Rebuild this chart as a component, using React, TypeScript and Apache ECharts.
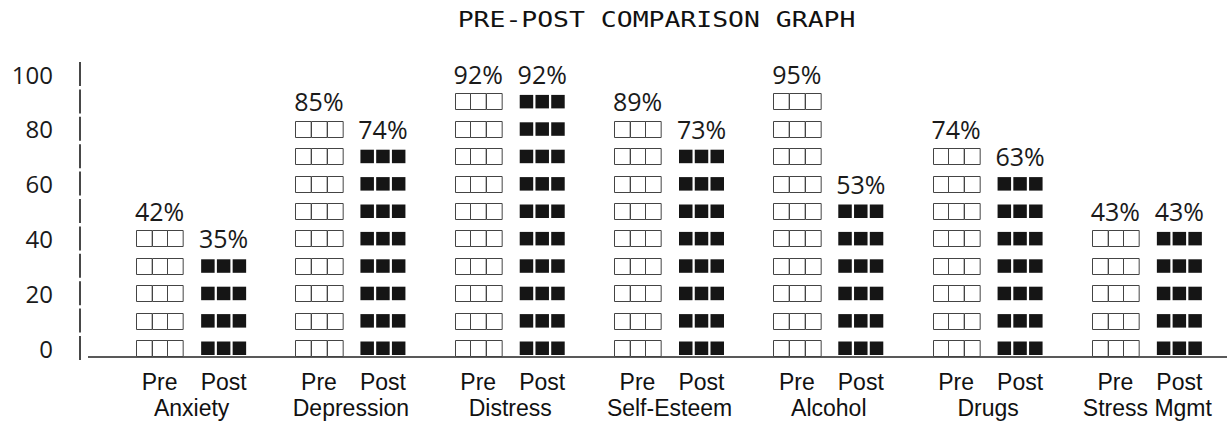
import React, { useEffect, useRef } from "react";
import * as echarts from "echarts";

const categories = ["Anxiety", "Depression", "Distress", "Self-Esteem", "Alcohol", "Drugs", "Stress Mgmt"];
const preValues = [42, 85, 92, 89, 95, 74, 43];
const postValues = [35, 74, 92, 73, 53, 63, 43];
const axisMarks = [0, 10, 20, 30, 40, 50, 60, 70, 80, 90, 100];
const TITLE = "PRE-POST COMPARISON GRAPH";
const STEP = 10; // one row of boxes per 10%

const MONO = "DejaVu Sans Mono";
const NUM = "Open Sans";
const SANS = "Liberation Sans";

function makeBarRender(kind: "pre" | "post") {
  return (params: any, api: any) => {
    const cat = api.value(0);
    const v = api.value(1);
    const base = api.coord([cat, 0]);
    const cx = base[0] + (kind === "pre" ? -32 : 32);
    const rows = Math.ceil(v / STEP);
    const children: any[] = [];
    for (let i = 0; i < rows; i++) {
      const cy = api.coord([cat, i * STEP])[1];
      for (let j = 0; j < 3; j++) {
        if (kind === "pre") {
          children.push({
            type: "rect",
            shape: { x: Math.round(cx - 23.5 + j * 15.67) + 0.5, y: Math.round(cy - 8) + 0.5, width: 15.67, height: 16 },
            style: { fill: "#fff", stroke: "#444", lineWidth: 1 },
          });
        } else {
          children.push({
            type: "rect",
            shape: { x: cx - 22.5 + j * 15.75, y: cy - 6.5, width: 13.5, height: 13.5 },
            style: { fill: "#151515" },
          });
        }
      }
    }
    const ly = api.coord([cat, rows * STEP])[1];
    children.push({
      type: "text",
      x: cx,
      y: ly,
      style: { text: v + "%", fontSize: 25, fontFamily: NUM, fill: "#1a1a1a", align: "center", verticalAlign: "middle" },
    });
    children.push({
      type: "text",
      x: cx,
      y: base[1] + 34,
      style: { text: kind === "pre" ? "Pre" : "Post", fontSize: 23, fontFamily: SANS, fill: "#111", align: "center", verticalAlign: "middle" },
    });
    return { type: "group", children };
  };
}

export default function App() {
  const ref = useRef<HTMLDivElement>(null);
  useEffect(() => {
    if (!ref.current) return;
    const chart = echarts.init(ref.current, undefined, { renderer: "svg" });
    chart.setOption({
      animation: false,
      backgroundColor: "#fff",
      graphic: [
        {
          type: "text",
          x: 656.5,
          y: 20.5,
          scaleX: 1.29,
          style: { text: TITLE, fontSize: 20.5, fontFamily: MONO, fill: "#111", align: "center", verticalAlign: "middle" },
        },
      ],
      grid: { left: 112, top: 74, width: 1120, height: 274 },
      xAxis: {
        type: "category",
        data: categories,
        axisLine: { show: false },
        axisTick: { show: false },
        splitLine: { show: false },
        axisLabel: { interval: 0, margin: 48, fontSize: 23, fontFamily: SANS, color: "#111", lineHeight: 23 },
      },
      yAxis: {
        type: "value",
        min: 0,
        max: 100,
        interval: 20,
        axisLine: { show: false },
        axisTick: { show: false },
        splitLine: { show: false },
        axisLabel: { margin: 59, fontSize: 24, fontFamily: NUM, color: "#1a1a1a" },
      },
      series: [
        {
          type: "custom",
          name: "axis",
          silent: true,
          clip: false,
          data: axisMarks.map((m) => [0, m]),
          encode: { x: 0, y: 1 },
          renderItem: (params: any, api: any) => {
            const cs = params.coordSys;
            const y = api.coord([0, api.value(1)])[1];
            const x = cs.x - 32;
            const children: any[] = [
              { type: "line", shape: { x1: x, y1: y - 12, x2: x, y2: y + 12 }, style: { stroke: "#333", lineWidth: 1.8 } },
            ];
            if (api.value(1) === 0) {
              children.push({
                type: "line",
                shape: { x1: cs.x - 24, y1: y + 9, x2: cs.x + cs.width, y2: y + 9 },
                style: { stroke: "#222", lineWidth: 1.5 },
              });
            }
            return { type: "group", children };
          },
        },
        {
          type: "custom",
          name: "Pre",
          clip: false,
          data: preValues.map((v, i) => [i, v]),
          encode: { x: 0, y: 1 },
          renderItem: makeBarRender("pre"),
        },
        {
          type: "custom",
          name: "Post",
          clip: false,
          data: postValues.map((v, i) => [i, v]),
          encode: { x: 0, y: 1 },
          renderItem: makeBarRender("post"),
        },
      ],
    });
    return () => chart.dispose();
  }, []);
  return <div ref={ref} style={{ position: "absolute", left: 0, top: 0, width: 1227, height: 421 }} />;
}
